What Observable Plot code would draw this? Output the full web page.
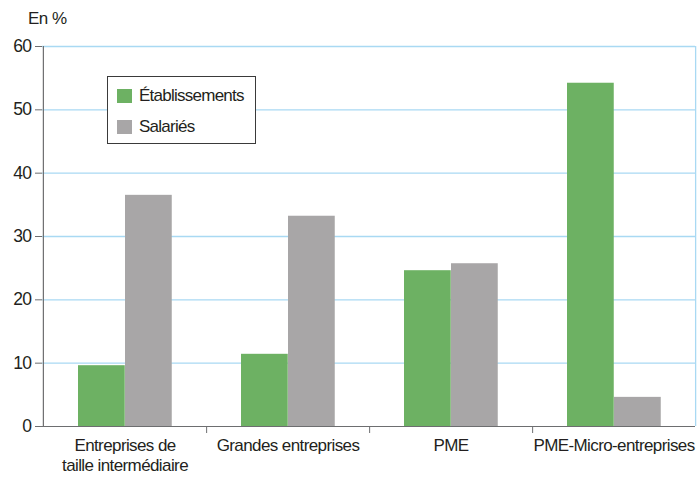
<!DOCTYPE html>
<html>
<head>
<meta charset="utf-8">
<script src="https://cdn.jsdelivr.net/npm/d3@7"></script>
<script src="https://cdn.jsdelivr.net/npm/@observablehq/plot@0.6"></script>
<style>
  body { margin: 0; background: #fff; }
  #wrap { position: relative; width: 697px; height: 477px; font-family: "Liberation Sans", Arial, sans-serif; }
  #unit { position: absolute; left: 28px; top: 9px; font-size: 17px; letter-spacing: -0.5px; color: #231f20; }
  #legend { position: absolute; left: 107px; top: 76px; width: 149px; height: 68px; border: 1px solid #3a3a3a; background: #fff; box-sizing: border-box; }
  .item { position: absolute; left: 9px; font-size: 17px; letter-spacing: -0.75px; color: #231f20; display: flex; align-items: center; }
  .sw { width: 15px; height: 14px; margin-right: 7px; }
  .chart text { letter-spacing: -0.6px; }
</style>
</head>
<body>
<div id="wrap">
  <div id="chart"></div>
  <div id="unit">En %</div>
  <div id="legend"></div>
</div>
<script>
const categories = ["Entreprises de\ntaille intermédiaire", "Grandes entreprises", "PME", "PME-Micro-entreprises"];
const series = ["Établissements", "Salariés"];
const etablissements = [9.6, 11.4, 24.6, 54.2];
const salaries = [36.5, 33.2, 25.7, 4.6];
const yTicks = [0, 10, 20, 30, 40, 50, 60];
const colors = ["#6db163", "#a8a6a7"];

const rowsE = categories.map((c, i) => ({cat: c, series: series[0], value: etablissements[i]}));
const rowsS = categories.map((c, i) => ({cat: c, series: series[1], value: salaries[i]}));

const W = 697, H = 477;
const mL = 42, mR = 2, mT = 46, mB = 51;
const bw = (W - mL - mR) / categories.length;
const half = bw / 2;

const chart = Plot.plot({
  className: "chart",
  width: W, height: H,
  marginLeft: mL, marginRight: mR, marginTop: mT, marginBottom: mB,
  style: {fontFamily: "Liberation Sans, Arial, sans-serif", background: "#fff", overflow: "visible"},
  x: {domain: categories, padding: 0, label: null},
  y: {domain: [0, 60], label: null},
  marks: [
    Plot.ruleY(yTicks.filter(d => d > 0), {stroke: "#a9d9f3", strokeWidth: 1.3}),
    Plot.ruleX([categories[categories.length - 1]], {dx: half, stroke: "#a9d9f3", strokeWidth: 1.3}),
    Plot.barY(rowsE, {x: "cat", y: "value", fill: colors[0], insetLeft: 35, insetRight: bw - 82}),
    Plot.barY(rowsS, {x: "cat", y: "value", fill: colors[1], insetLeft: 82, insetRight: bw - 129}),
    Plot.ruleY([0], {stroke: "#6d6e70", strokeWidth: 1.2}),
    Plot.ruleX([categories[0]], {dx: -half, stroke: "#6d6e70", strokeWidth: 1.2}),
    Plot.axisY({ticks: yTicks, tickSize: 7, tickPadding: 4, fontSize: 17.5, color: "#231f20", stroke: "#6d6e70", label: null}),
    Plot.axisX({ticks: categories.slice(0, 3), text: null, tickSize: 7, dx: half, stroke: "#6d6e70", label: null}),
    Plot.axisX({tickSize: 0, tickPadding: 10, fontSize: 17, lineHeight: 1.2, color: "#231f20", label: null})
  ]
});
document.getElementById("chart").appendChild(chart);

const legend = document.getElementById("legend");
series.forEach((s, i) => {
  const it = document.createElement("div");
  it.className = "item";
  it.style.top = (i === 0 ? 9 : 40) + "px";
  it.innerHTML = `<span class="sw" style="background:${colors[i]}"></span><span>${s}</span>`;
  legend.appendChild(it);
});
</script>
</body>
</html>
